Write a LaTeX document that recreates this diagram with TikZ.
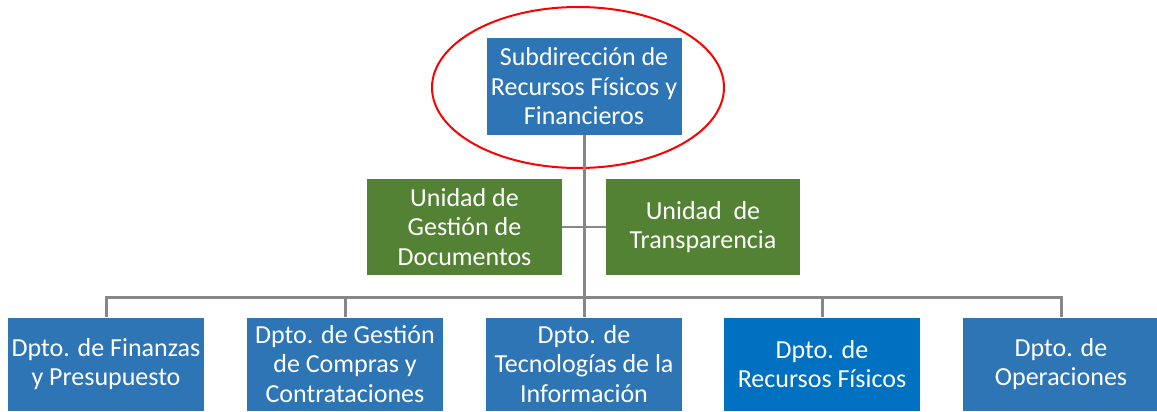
\documentclass[tikz,border=0pt]{standalone}
\usepackage{fontspec}
\setmainfont{Carlito}
\definecolor{boxblue}{HTML}{2E75B6}
\definecolor{boxblue2}{HTML}{0070C0}
\definecolor{boxgreen}{HTML}{548235}
\definecolor{linegray}{HTML}{878787}
\begin{document}
\begin{tikzpicture}[x=1pt,y=-1pt,
  orgbox/.style={fill=boxblue, text=white, minimum width=196pt, minimum height=93pt,
    inner sep=0pt, align=center, font=\fontsize{26}{29.5}\selectfont},
  greenbox/.style={orgbox, fill=boxgreen, minimum width=195pt, minimum height=96pt},
  conn/.style={draw=linegray, line width=3pt},
  thinconn/.style={draw=linegray, line width=2pt}]
\useasboundingbox (0,0) rectangle (1157,412);
\node[orgbox, minimum width=195pt, minimum height=97pt] (top) at (584,86.5) {Subdirección de\\Recursos Físicos y\\Financieros};
\draw[red, line width=2pt] (578,87.5) ellipse [x radius=146pt, y radius=80.5pt];
\node[greenbox] (g1) at (464.5,227) {Unidad de\\Gestión de\\Documentos};
\node[greenbox, minimum width=194pt] (g2) at (703,227) {Unidad\ \ de\\Transparencia};
\node[orgbox] (d1) at (106,364) {Dpto. de Finanzas\\y Presupuesto};
\node[orgbox] (d2) at (345,364) {Dpto. de Gestión\\de Compras y\\Contrataciones};
\node[orgbox] (d3) at (584,364) {Dpto. de\\Tecnologías de la\\Información};
\node[orgbox, fill=boxblue2] (d4) at (822,364) {Dpto. de\\Recursos Físicos};
\node[orgbox] (d5) at (1061,364) {Dpto. de\\Operaciones};
\coordinate (bus) at (584,297.5);
\draw[thinconn] (g1.east) -- (g2.west);
\draw[conn] (top.south) -- (d3.north);
\draw[conn] (d1.north) -- (d1.north |- bus) -- (d5.north |- bus) -- (d5.north);
\draw[conn] (d2.north) -- (d2.north |- bus);
\draw[conn] (d4.north) -- (d4.north |- bus);
\end{tikzpicture}
\end{document}
